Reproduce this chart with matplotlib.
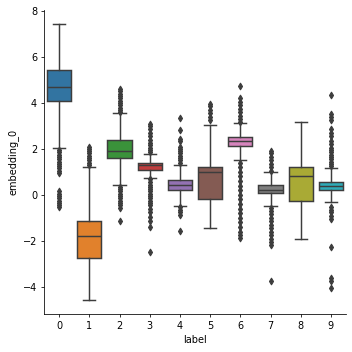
import colorsys
import matplotlib
matplotlib.use("Agg")
import matplotlib.pyplot as plt
import matplotlib.colors as mcolors

labels = ["0", "1", "2", "3", "4", "5", "6", "7", "8", "9"]
q1 = [4.10, -2.73, 1.59, 1.10, 0.22, -0.17, 2.11, 0.07, -0.28, 0.20]
med = [4.71, -1.80, 1.90, 1.30, 0.45, 0.98, 2.33, 0.22, 0.84, 0.39]
q3 = [5.45, -1.15, 2.37, 1.37, 0.65, 1.23, 2.53, 0.42, 1.23, 0.58]
whislo = [2.03, -4.58, 0.42, 0.74, -0.50, -1.45, 1.50, -0.50, -1.94, -0.32]
whishi = [7.45, 1.20, 3.55, 1.78, 1.32, 3.03, 3.11, 0.98, 3.16, 1.16]
fliers = [
    [1.95, 1.85, 1.75, 1.65, 1.55, 1.45, 1.35, 1.25, 1.15, 1.05, 0.95, 0.16, 0.05, -0.05, -0.15, -0.25, -0.35, -0.45, -0.55],
    [1.30, 1.40, 1.50, 1.60, 1.70, 1.80, 1.90, 2.00, 2.08],
    [3.62, 3.70, 3.80, 3.90, 4.00, 4.10, 4.20, 4.30, 4.40, 4.50, 4.62,
     0.35, 0.25, 0.15, 0.05, -0.05, -0.15, -0.25, -0.35, -0.45, -0.58, -1.15],
    [1.85, 1.95, 2.05, 2.15, 2.25, 2.40, 2.55, 2.70, 2.85, 3.00, 3.08,
     0.68, 0.55, 0.45, 0.35, 0.25, 0.15, 0.05, -0.05, -0.15, -0.25, -0.35, -0.45, -0.60, -0.75, -0.95, -1.15, -1.38, -2.50],
    [1.40, 1.50, 1.60, 1.70, 1.80, 1.90, 2.00, 2.10, 2.35, 2.45, 2.80, 3.35,
     -0.55, -0.65, -0.75, -0.88, -1.57],
    [3.25, 3.40, 3.55, 3.70, 3.85, 3.95],
    [3.18, 3.30, 3.45, 3.60, 3.75, 3.90, 4.05, 4.20, 4.75,
     1.40, 1.20, 1.00, 0.80, 0.60, 0.40, 0.20, 0.00, -0.20, -0.40, -0.60, -0.80, -1.00, -1.20, -1.40, -1.60, -1.75, -1.88],
    [1.05, 1.20, 1.35, 1.50, 1.65, 1.80, 1.92,
     -0.58, -0.70, -0.85, -1.00, -1.15, -1.30, -1.45, -1.60, -1.75, -1.90, -2.05, -2.18, -3.73],
    [],
    [1.25, 1.35, 1.45, 1.55, 1.65, 1.75, 1.85, 1.95, 2.05, 2.20, 2.35, 2.55, 2.70, 2.85, 3.25, 3.40, 3.50, 4.35,
     -0.55, -0.65, -0.75, -0.90, -1.05, -2.28, -3.60, -3.75, -4.05],
]

base = plt.get_cmap("tab10").colors


def desat(c, prop=0.75):
    h, l, s = colorsys.rgb_to_hls(*c)
    return colorsys.hls_to_rgb(h, l, s * prop)


colors = [desat(c) for c in base]
gray = (0.24, 0.24, 0.24)

fig = plt.figure(figsize=(5, 5), dpi=70.4)
ax = fig.add_axes([0.125, 0.107, 0.858, 0.865])

stats = []
for i in range(len(labels)):
    stats.append(dict(med=med[i], q1=q1[i], q3=q3[i], whislo=whislo[i],
                      whishi=whishi[i], fliers=fliers[i], label=labels[i]))

bp = ax.bxp(stats, positions=range(len(labels)), widths=0.8, patch_artist=True,
            showfliers=True,
            boxprops=dict(edgecolor=gray, linewidth=1.5),
            medianprops=dict(color=gray, linewidth=1.5),
            whiskerprops=dict(color=gray, linewidth=1.5),
            capprops=dict(color=gray, linewidth=1.5),
            flierprops=dict(marker="d", markerfacecolor=gray, markeredgecolor=gray,
                            markersize=5, linestyle="none"))
for patch, c in zip(bp["boxes"], colors):
    patch.set_facecolor(c)
for caps in bp["caps"]:
    x = caps.get_xdata()
    mid = (x[0] + x[1]) / 2
    caps.set_xdata([mid - 0.2, mid + 0.2])

ax.set_xlim(-0.5, 9.5)
ax.set_ylim(-5.2, 8.05)
ax.set_yticks([-4, -2, 0, 2, 4, 6, 8])
ax.set_xticks(range(len(labels)))
ax.set_xticklabels(labels)
ax.set_xlabel("label")
ax.set_ylabel("embedding_0")
ax.spines["top"].set_visible(False)
ax.spines["right"].set_visible(False)

fig.savefig("out.png", dpi=70.4)
